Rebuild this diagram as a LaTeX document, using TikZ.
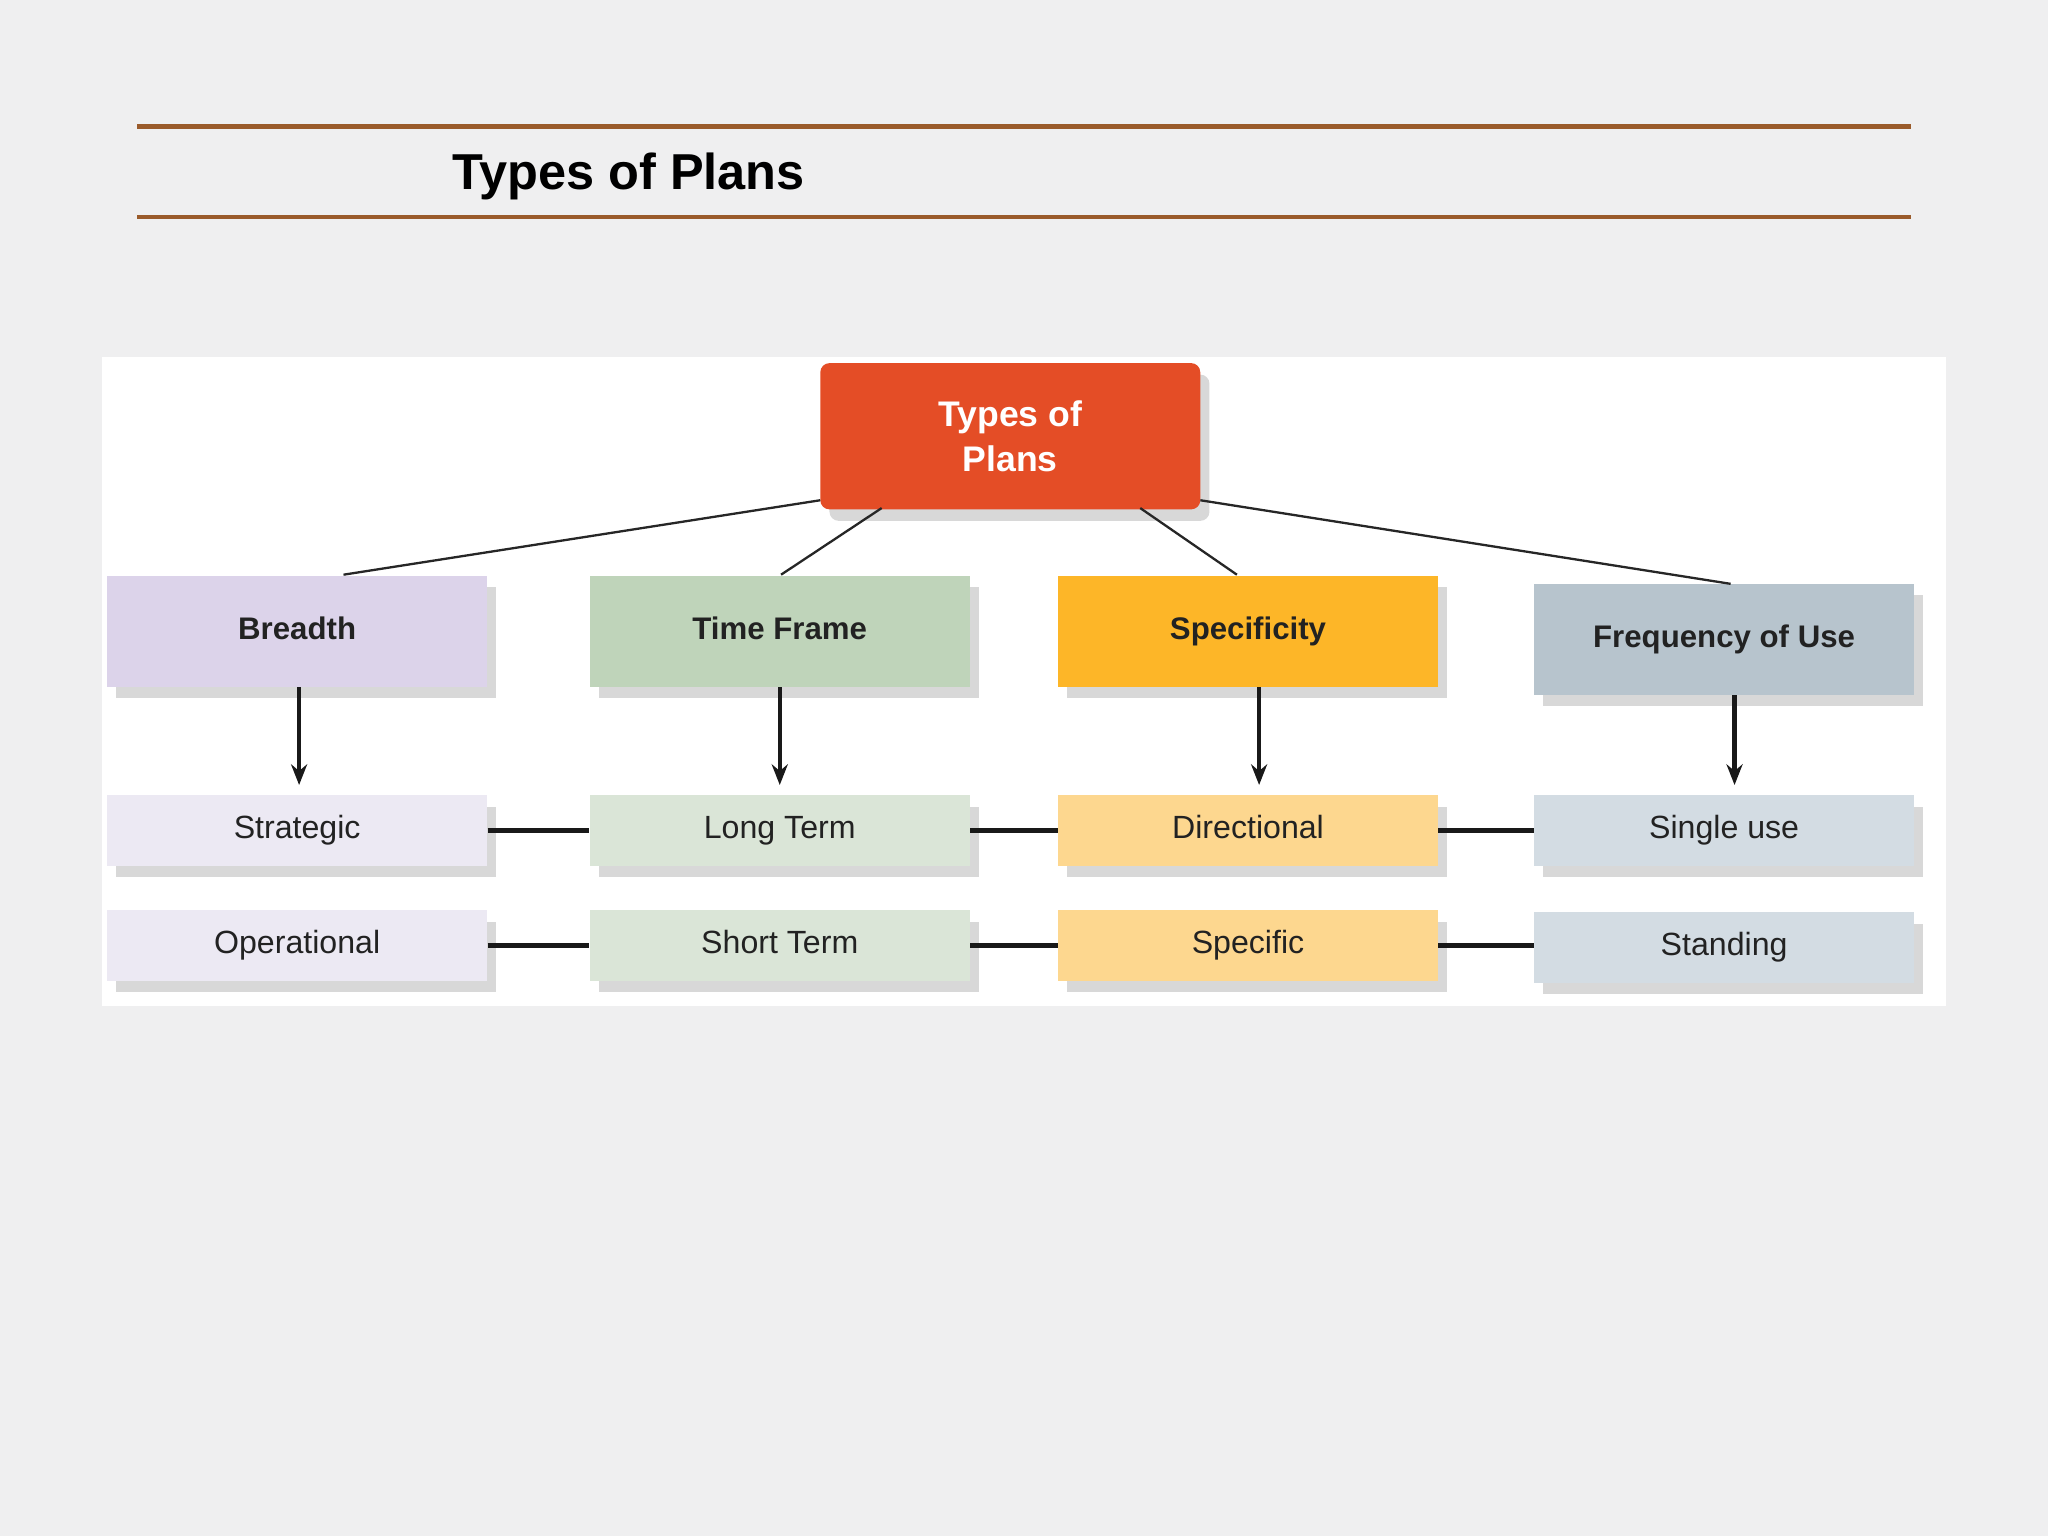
\documentclass[tikz,border=0pt]{standalone}
\usepackage{fontspec}
\setmainfont{Liberation Sans}
\usetikzlibrary{shadows,arrows.meta}
\definecolor{bg}{HTML}{EFEFF0}
\definecolor{rule}{HTML}{9A5B2B}
\definecolor{topc}{HTML}{E44D26}
\definecolor{c1}{HTML}{DCD3EA}\definecolor{d1}{HTML}{ECE9F3}
\definecolor{c2}{HTML}{BFD4BA}\definecolor{d2}{HTML}{DAE5D7}
\definecolor{c3}{HTML}{FDB628}\definecolor{d3}{HTML}{FDD78F}
\definecolor{c4}{HTML}{B7C4CD}\definecolor{d4}{HTML}{D3DCE3}
\definecolor{txt}{HTML}{222222}
\tikzset{
 shad/.style={drop shadow={opacity=0.3,shadow xshift=4pt,shadow yshift=-5pt}},
 cat/.style={shad,minimum width=5.82cm,minimum height=1.7cm,inner sep=0pt,text height=0.72em,text depth=0pt,font=\fontsize{13.6}{16}\selectfont\bfseries,text=txt},
 sub/.style={shad,minimum width=5.82cm,minimum height=1.08cm,inner sep=0pt,text height=0.72em,text depth=0pt,font=\fontsize{14}{16}\selectfont,text=txt},
 thin/.style={draw=black!85,line width=1pt},
 thick/.style={draw=black!90,line width=2.2pt},
 arr/.style={draw=black!90,line width=1.8pt,-{Stealth[length=9pt,width=7pt]}}
}
\begin{document}
\begin{tikzpicture}[x=0.02cm,y=-0.02cm]
\fill[bg] (0,0) rectangle (1568,1176);
\useasboundingbox (0,0) rectangle (1568,1176);
\draw[rule,line width=2pt] (105,97) -- (1463,97);
\draw[rule,line width=2pt] (105,166) -- (1463,166);
\node[anchor=west,font=\fontsize{22}{26}\selectfont\bfseries] (title) at (340,135) {Types of Plans};
\fill[white] (78,273) rectangle (1490,770);
\node[shad,fill=topc,rounded corners=4pt,minimum width=5.82cm,minimum height=2.24cm,align=center,text=white,font=\fontsize{15.5}{19.5}\selectfont\bfseries] (top) at (773.5,334) {Types of\\Plans};
\node[cat,fill=c1] (b) at (227.5,483.5) {Breadth};
\node[cat,fill=c2] (t) at (597,483.5) {Time Frame};
\node[cat,fill=c3] (s) at (955.5,483.5) {Specificity};
\node[cat,fill=c4] (f) at (1320,489.5) {Frequency of Use};
\node[sub,fill=d1] (b1) at (227.5,636) {Strategic};
\node[sub,fill=d2] (t1) at (597,636) {Long Term};
\node[sub,fill=d3] (s1) at (955.5,636) {Directional};
\node[sub,fill=d4] (f1) at (1320,636) {Single use};
\node[sub,fill=d1] (b2) at (227.5,724) {Operational};
\node[sub,fill=d2] (t2) at (597,724) {Short Term};
\node[sub,fill=d3] (s2) at (955.5,724) {Specific};
\node[sub,fill=d4] (f2) at (1320,725.5) {Standing};
\coordinate (tA) at (628,383); \coordinate (tB) at (675,389);
\coordinate (tC) at (873,389); \coordinate (tD) at (919,383);
\draw[thin] (tA) -- (263,440);
\draw[thin] (tB) -- (598,440);
\draw[thin] (tC) -- (947,440);
\draw[thin] (tD) -- (1325,447);
\draw[arr] (b.south -| 229,0) -- (229,601);
\draw[arr] (t.south -| 597,0) -- (597,601);
\draw[arr] (s.south -| 964,0) -- (964,601);
\draw[arr] (f.south -| 1328,0) -- (1328,601);
\foreach \a/\c in {b1/t1,t1/s1,s1/f1,b2/t2,t2/s2,s2/f2}{
  \draw[thick] (\a.east) -- (\a.east -| \c.west);
}
\end{tikzpicture}
\end{document}
